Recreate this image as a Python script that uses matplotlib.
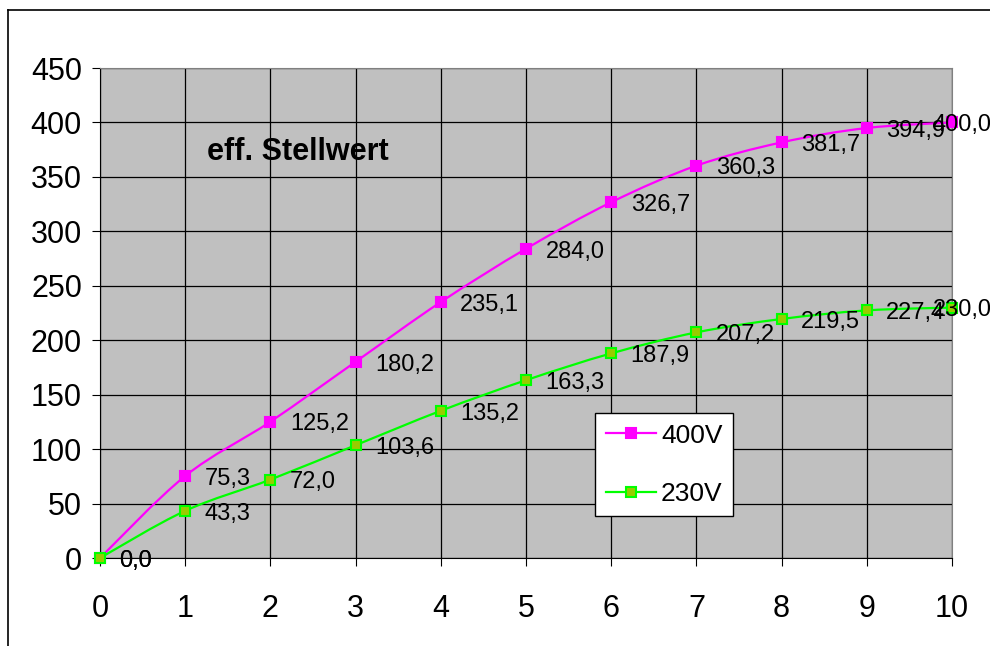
import numpy as np
import matplotlib
matplotlib.use('Agg')
import matplotlib.pyplot as plt
from matplotlib.path import Path
from matplotlib.patches import PathPatch
from matplotlib.lines import Line2D

plt.rcParams['font.family'] = ['Liberation Sans', 'DejaVu Sans']

# data
steps = [0, 1, 2, 3, 4, 5, 6, 7, 8, 9, 10]
v400 = [0.0, 75.3, 125.2, 180.2, 235.1, 284.0, 326.7, 360.3, 381.7, 394.9, 400.0]
v230 = [0.0, 43.3, 72.0, 103.6, 135.2, 163.3, 187.9, 207.2, 219.5, 227.4, 230.0]
series_names = ['400V', '230V']


def smooth_path(x, y):
    # Catmull-Rom style bezier, like Excel's smoothed line
    pts = np.column_stack([x, y]).astype(float)
    verts = [pts[0]]
    codes = [Path.MOVETO]
    n = len(pts)
    for i in range(n - 1):
        p0 = pts[i - 1] if i > 0 else pts[i]
        p1 = pts[i]
        p2 = pts[i + 1]
        p3 = pts[i + 2] if i + 2 < n else pts[i + 1]
        c1 = p1 + (p2 - p0) / 6.0
        c2 = p2 - (p3 - p1) / 6.0
        verts += [c1, c2, p2]
        codes += [Path.CURVE4] * 3
    return Path(verts, codes)


fig = plt.figure(figsize=(9.9, 6.46), dpi=100)
W, H = 990, 646

# outer chart frame
fig.add_artist(Line2D([8 / W, 1.0], [1 - 10 / H, 1 - 10 / H], color='black', lw=1.2))
fig.add_artist(Line2D([8 / W, 8 / W], [0, 1 - 10 / H], color='black', lw=1.2))

ax = fig.add_axes([100 / W, 88 / H, 852 / W, 490 / H])
ax.set_facecolor('#C0C0C0')
ax.set_xlim(0, 10)
ax.set_ylim(0, 450)
ax.set_xticks(range(0, 11))
ax.set_yticks(range(0, 451, 50))
ax.grid(True, color='black', lw=0.9)
ax.set_axisbelow(True)
for s in ['top', 'right']:
    ax.spines[s].set_color('#808080')
for s in ['left', 'bottom']:
    ax.spines[s].set_color('black')
ax.tick_params(axis='both', labelsize=22, length=6, direction='out', color='black')
ax.tick_params(axis='x', pad=20)
ax.tick_params(axis='y', pad=7)

styles = [
    dict(color='#FF00FF', mfc='#FF00FF', mec='#FF00FF'),
    dict(color='#00FF00', mfc='#99CC00', mec='#00FF00'),
]

for vals, name, st in zip([v400, v230], series_names, styles):
    ax.add_patch(PathPatch(smooth_path(steps, vals), fill=False,
                           edgecolor=st['color'], lw=1.6, zorder=3))
    ax.plot(steps, vals, ls='none', marker='s', ms=7.5, mfc=st['mfc'],
            mec=st['mec'], mew=1.5, zorder=4, clip_on=False, label=name)
    for i, (xv, yv) in enumerate(zip(steps, vals)):
        dx = 14 if i < len(steps) - 1 else -14
        ax.annotate(f'{yv:.1f}'.replace('.', ','), (xv, yv),
                    xytext=(dx, -2), textcoords='offset points',
                    fontsize=17, ha='left', va='center', zorder=5,
                    annotation_clip=False)

# legend with line+marker
handles = [Line2D([], [], color=st['color'], marker='s', ms=7.5, mfc=st['mfc'],
                  mec=st['mec'], mew=1.5, lw=1.6) for st in styles]
leg = ax.legend(handles, series_names, loc='upper left',
                bbox_to_anchor=((595 - 100) / 852, (558 - 413) / 490),
                borderaxespad=0, fontsize=19, frameon=True, fancybox=False,
                edgecolor='black', framealpha=1, handlelength=1.9,
                borderpad=0.4, labelspacing=1.3, handletextpad=0.2)
leg.get_frame().set_linewidth(1.0)

ax.text(1.26, 373, 'eff. Stellwert', fontsize=22, fontweight='bold',
        ha='left', va='center')

fig.savefig('out.png', dpi=100)
